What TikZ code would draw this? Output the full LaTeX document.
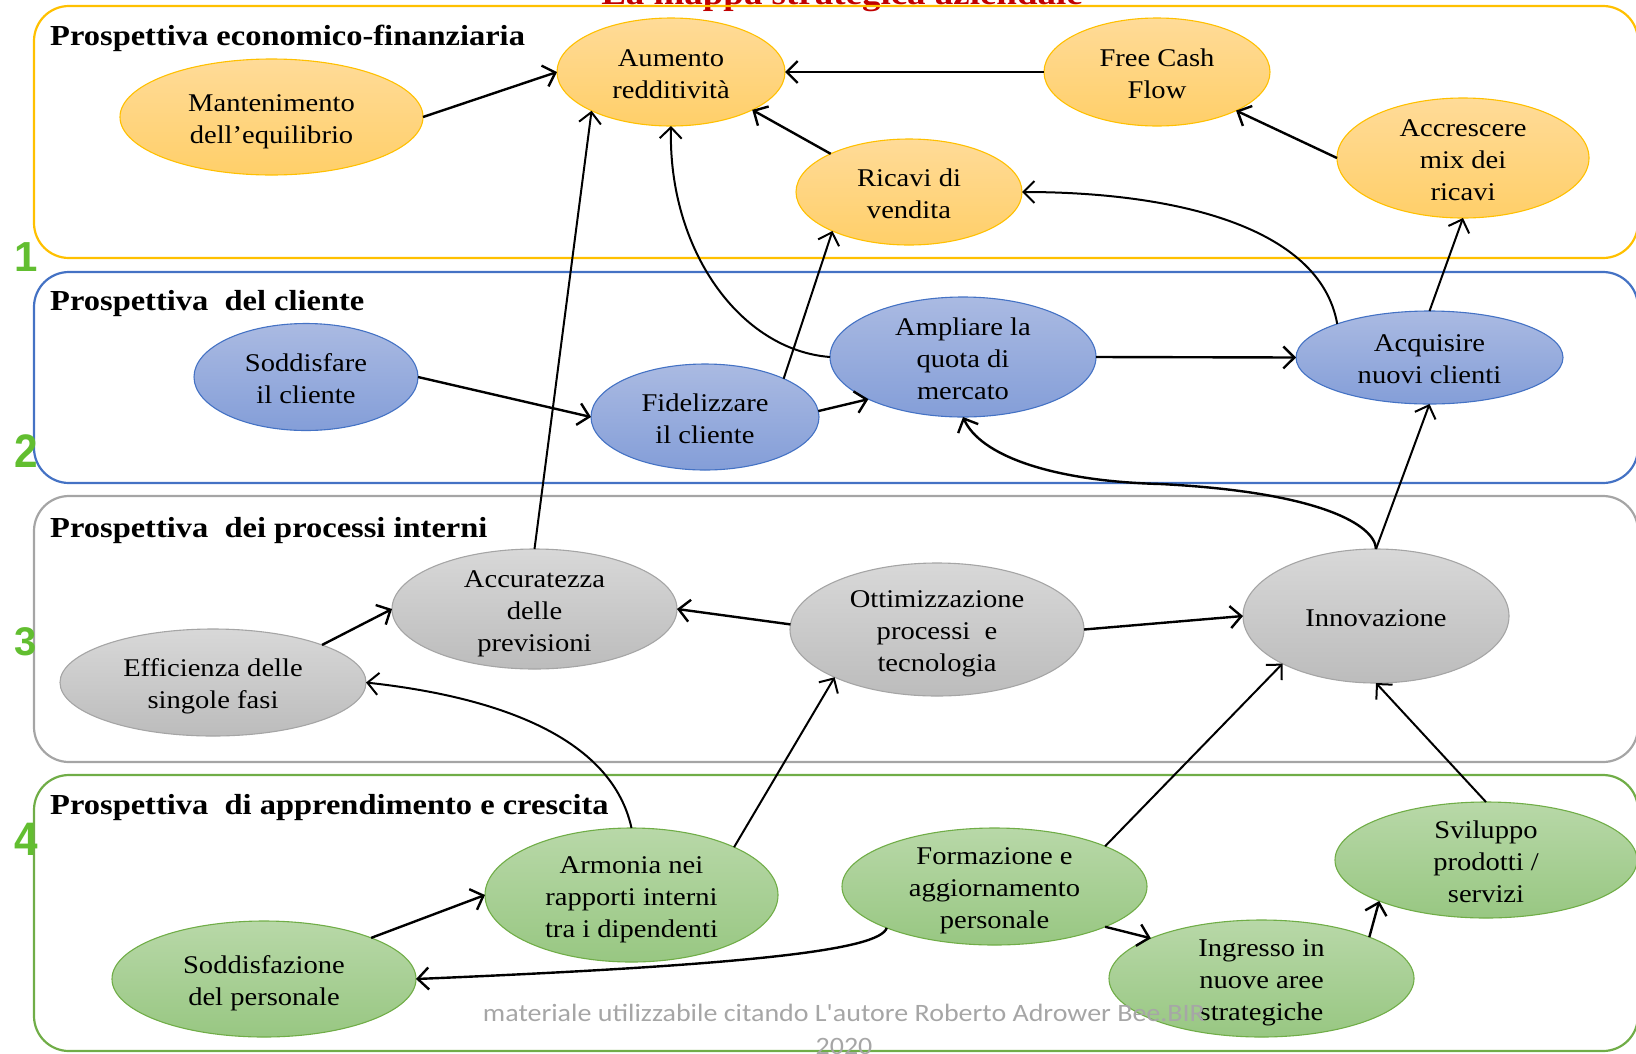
\documentclass[tikz,border=0pt]{standalone}
\usepackage{fontspec}
\setmainfont{Liberation Serif}[FakeStretch=1.12]
\newfontfamily\wmfont{Carlito}[FakeStretch=1.12]
\newfontfamily\numfont{Liberation Sans}
\usetikzlibrary{shapes.geometric,arrows.meta}

\definecolor{orLine}{RGB}{255,192,0}
\definecolor{orTop}{RGB}{255,219,152}
\definecolor{orBot}{RGB}{255,207,105}
\definecolor{blLine}{RGB}{68,114,196}
\definecolor{blTop}{RGB}{170,186,226}
\definecolor{blBot}{RGB}{132,158,216}
\definecolor{grLine}{RGB}{165,165,165}
\definecolor{grTop}{RGB}{216,216,216}
\definecolor{grBot}{RGB}{188,188,188}
\definecolor{gnLine}{RGB}{112,173,71}
\definecolor{gnTop}{RGB}{184,216,168}
\definecolor{gnBot}{RGB}{152,199,130}
\definecolor{numGreen}{RGB}{98,190,48}
\definecolor{titleRed}{RGB}{192,0,0}
\definecolor{wmGray}{RGB}{166,166,166}

% line strut: fixed ascent/descent so every text line sits alike
\newcommand\lns{\rule[-6pt]{0pt}{32pt}}

\begin{document}
\begin{tikzpicture}[x=1pt,y=-1pt,
  band/.style={line width=2.2pt, rounded corners=35pt},
  oval/.style={ellipse, draw, line width=1.1pt, inner sep=0pt, outer sep=0pt},
  orov/.style={oval, draw=orLine, top color=orTop, bottom color=orBot},
  blov/.style={oval, draw=blLine, top color=blTop, bottom color=blBot},
  grov/.style={oval, draw=grLine, top color=grTop, bottom color=grBot},
  gnov/.style={oval, draw=gnLine, top color=gnTop, bottom color=gnBot},
  txt/.style={font=\fontsize{25.5}{32}\selectfont, align=center, inner sep=0pt, text=black},
  head/.style={font=\bfseries\fontsize{29}{34}\selectfont, anchor=base west, inner sep=0pt},
  num/.style={font=\numfont\bfseries, text=numGreen, anchor=base, inner sep=0pt},
  arr/.style={line width=2.4pt, -{Straight Barb[length=11pt,width=22pt]}},
  thin/.style={line width=2.0pt},
]
\useasboundingbox (0,0) rectangle (1636,1053);
\clip (0,0) rectangle (1636,1053);

% title, mostly above the page edge
\node[font=\bfseries\fontsize{33}{38}\selectfont, text=titleRed, anchor=base, inner sep=0pt]
  (title) at (842,4) {La mappa strategica aziendale};

% perspective bands
\draw[band, orLine] (34,6) rectangle (1638,258);
\draw[band, blLine] (34,272) rectangle (1638,483);
\draw[band, grLine] (34,496) rectangle (1638,762);
\draw[band, gnLine] (34,775) rectangle (1638,1051);

\node[head] (h1) at (50,45) {Prospettiva economico-finanziaria};
\node[head] (h2) at (50,310) {Prospettiva~ del cliente};
\node[head] (h3) at (50,537) {Prospettiva~ dei processi interni};
\node[head] (h4) at (50,814) {Prospettiva~ di apprendimento e crescita};

\node[num, font=\numfont\bfseries\fontsize{42}{42}\selectfont] (n1) at (26,271) {1};
\node[num, font=\numfont\bfseries\fontsize{47}{47}\selectfont, xscale=0.9] (n2) at (26,467) {2};
\node[num, font=\numfont\bfseries\fontsize{40}{40}\selectfont] (n3) at (26,655) {3};
\node[num, font=\numfont\bfseries\fontsize{47}{47}\selectfont, xscale=0.9] (n4) at (26,855) {4};

% economic-financial objectives
\node[orov, minimum width=303, minimum height=116,
  label={[txt]center:{\lns Mantenimento\\\lns dell’equilibrio}}] (mant) at (271.5,117) {};
\node[orov, minimum width=228, minimum height=108,
  label={[txt]center:{\lns Aumento\\\lns redditività}}] (aum) at (671,72) {};
\node[orov, minimum width=226, minimum height=108,
  label={[txt]center:{\lns Free Cash\\\lns Flow}}] (fcf) at (1157,72) {};
\node[orov, minimum width=226, minimum height=106,
  label={[txt]center:{\lns Ricavi di\\\lns vendita}}] (ric) at (909,192) {};
\node[orov, minimum width=252, minimum height=120,
  label={[txt]center:{\lns Accrescere\\\lns mix dei\\\lns ricavi}}] (acc) at (1463,158) {};

% customer objectives
\node[blov, minimum width=224, minimum height=107,
  label={[txt]center:{\lns Soddisfare\\\lns il cliente}}] (sodd) at (306,377) {};
\node[blov, minimum width=228, minimum height=106,
  label={[txt]center:{\lns Fidelizzare\\\lns il cliente}}] (fid) at (705,417) {};
\node[blov, minimum width=266, minimum height=120,
  label={[txt]center:{\lns Ampliare la\\\lns quota di\\\lns mercato}}] (amp) at (963,357) {};
\node[blov, minimum width=267, minimum height=93,
  label={[txt]center:{\lns Acquisire\\\lns nuovi clienti}}] (acq) at (1429.5,357.5) {};

% internal process objectives
\node[grov, minimum width=306, minimum height=107,
  label={[txt]center:{\lns Efficienza delle\\\lns singole fasi}}] (eff) at (213,682.5) {};
\node[grov, minimum width=285, minimum height=120,
  label={[txt]center:{\lns Accuratezza\\\lns delle\\\lns previsioni}}] (accu) at (534.5,609) {};
\node[grov, minimum width=294, minimum height=133,
  label={[txt]center:{\lns Ottimizzazione\\\lns processi~ e\\\lns tecnologia}}] (ott) at (937,629.5) {};
\node[grov, minimum width=266, minimum height=134,
  label={[txt]center:{\lns Innovazione}}] (inn) at (1376,616) {};

% learning and growth objectives
\node[gnov, minimum width=304, minimum height=116,
  label={[txt]center:{\lns Soddisfazione\\\lns del personale}}] (spers) at (264,979) {};
\node[gnov, minimum width=293, minimum height=134,
  label={[txt]center:{\lns Armonia nei\\\lns rapporti interni\\\lns tra i dipendenti}}] (arm) at (631.5,895) {};
\node[gnov, minimum width=305, minimum height=117,
  label={[txt]center:{\lns Formazione e\\\lns aggiornamento\\\lns personale}}] (form) at (994.5,886.5) {};
\node[gnov, minimum width=305, minimum height=117,
  label={[txt]center:{\lns Ingresso in\\\lns nuove aree\\\lns strategiche}}] (ingr) at (1261.5,978.5) {};
\node[gnov, minimum width=302, minimum height=116,
  label={[txt]center:{\lns Sviluppo\\\lns prodotti /\\\lns servizi}}] (svil) at (1486,860) {};

% cause-effect links
\draw[arr] (mant.0) -- (aum.180);
\draw[arr] (fcf.180) -- (aum.0);
\draw[arr] (ric.154) -- (aum.-25);
\draw[arr] (acc.180) -- (fcf.-26);
\draw[arr, thin] (acq.160) .. controls (1320,226) and (1173,192) .. (ric.0);
\draw[arr, thin] (acq.90) -- (acc.-90);
\draw[arr, thin] (fid.26) -- (ric.207);
\draw[arr, thin] (amp.180) .. controls (740,350) and (668,250) .. (aum.-90);
\draw[arr] (sodd.0) -- (fid.180);
\draw[arr] (fid.3) -- (amp.204);
\draw[arr] (amp.0) -- (acq.180);
\coordinate (bend) at (1160,484);
\draw[arr] (inn.90) .. controls (1375,525) and (1320,492) .. (bend)
  .. controls (1050,481) and (980,455) .. (amp.-90);
\draw[arr, thin] (inn.90) -- (acq.-90);
\draw[arr, thin] (accu.90) -- (aum.206);
\draw[arr] (eff.19) -- (accu.180);
\draw[arr] (ott.178) -- (accu.0);
\draw[arr] (ott.0) -- (inn.180);
\draw[arr, thin] (arm.90) .. controls (610,730) and (480,695) .. (eff.0);
\draw[arr, thin] (arm.25) -- (ott.205);
\draw[arr] (spers.21) -- (arm.180);
\draw[arr] (form.201) .. controls (880,950) and (750,965) .. (spers.0);
\draw[arr] (form.-20) -- (ingr.160);
\draw[arr, thin] (form.20) -- (inn.207);
\draw[arr] (ingr.21) -- (svil.201);
\draw[arr, thin] (svil.90) -- (inn.-90);

% author note
\node[font=\wmfont\fontsize{25}{33}\selectfont, text=wmGray, anchor=base, inner sep=0pt]
  (wm1) at (844,1021) {materiale utilizzabile citando L'autore Roberto Adrower Bee.BIR};
\node[font=\wmfont\fontsize{25}{33}\selectfont, text=wmGray, anchor=base, inner sep=0pt]
  (wm2) at (844,1054) {2020};
\end{tikzpicture}
\end{document}
